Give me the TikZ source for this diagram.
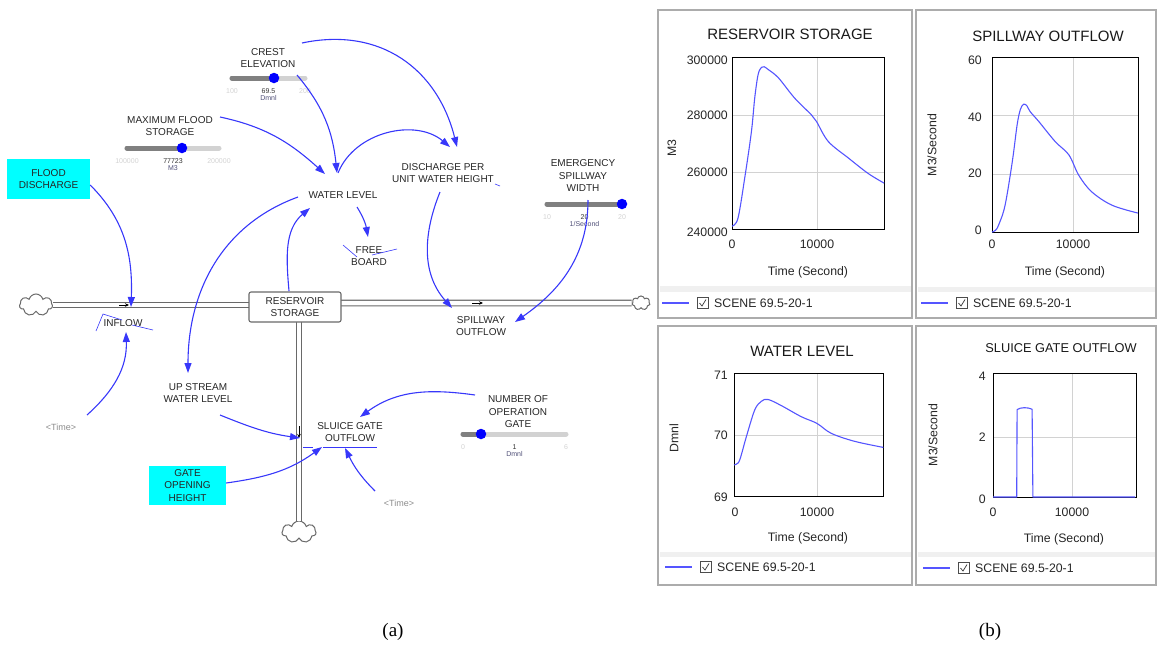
\documentclass[tikz,border=0pt]{standalone}
\usepackage{fontspec}
\setmainfont{Liberation Sans}
\newfontfamily\capfont{Liberation Serif}
\usetikzlibrary{shapes.symbols, arrows.meta, calc, positioning}
\definecolor{cLink}{RGB}{55,55,250}
\definecolor{cCyan}{RGB}{0,255,255}
\definecolor{cPipe}{RGB}{105,105,105}
\definecolor{cPlot}{RGB}{85,85,255}
\definecolor{cUnit}{RGB}{80,80,120}
\tikzset{
	var/.style={align=center, font=\fontsize{10}{12.5}\selectfont, inner sep=0pt, text=black!85},
	shadowvar/.style={var, text=black!45, font=\fontsize{9}{11}\selectfont},
	cyanbox/.style={var, fill=cCyan, minimum width=83pt, minimum height=40pt},
	stockbox/.style={var, draw=cPipe, line width=1.1pt, fill=white, rounded corners=2pt, minimum width=92pt, minimum height=30pt},
	cloudnode/.style={cloud, cloud puffs=7, cloud ignores aspect, draw=cPipe, line width=1pt, fill=white, inner sep=0pt},
	pipe/.style={draw=cPipe, line width=1.1pt, double=white, double distance=4.5pt},
	link/.style={draw=cLink, line width=1.1pt, -{Triangle[length=10pt,width=7pt]}},
	valve/.style={-{Stealth[length=4pt,width=3.5pt]}, line width=0.7pt, black},
	slabel/.style={font=\fontsize{7}{8}\selectfont, inner sep=0pt},
	panel/.style={draw=gray!65, line width=1.6pt},
	plotbox/.style={draw=black, line width=0.8pt},
	gridln/.style={draw=gray!35, line width=0.8pt},
	curve/.style={draw=cPlot, line width=1.1pt, line join=round},
	tick/.style={font=\fontsize{12.3}{14}\selectfont, inner sep=0pt, text=black!85},
	ptitle/.style={font=\fontsize{15}{17}\selectfont, inner sep=0pt, text=black!90},
}
% slider: name, x1, x2, y, knob, min, value, max, unit
\newcommand{\vslider}[9]{%
	\draw[line width=5pt, line cap=round, gray!35] (#2,#4) -- (#3,#4);
	\draw[line width=5pt, line cap=round, gray] (#2,#4) -- (#5,#4);
	\node[circle, fill=blue, inner sep=0pt, minimum size=10.5pt] (#1) at (#5,#4) {};
	\node[slabel, text=gray!35] at (#2,#4+13) {#6};
	\node[slabel, text=black!80] at ({(#2+#3)/2},#4+13) {#7};
	\node[slabel, text=gray!35] at (#3,#4+13) {#8};
	\node[slabel, text=cUnit] at ({(#2+#3)/2},#4+20) {#9};
}
% legend row of a chart
\newcommand{\legendrow}[2]{%
	\draw[curve] (#1,#2) -- (#1+27,#2);
	\draw[black!70, line width=0.6pt] (#1+35,#2-5.5) rectangle (#1+46,#2+5.5);
	\draw[black!80, line width=0.7pt] (#1+37.5,#2) -- (#1+40,#2+3) -- (#1+44,#2-3.5);
	\node[tick, anchor=west] at (#1+52,#2) {SCENE 69.5-20-1};
}

\begin{document}
\begin{tikzpicture}[x=1pt, y=-1pt]
\useasboundingbox (0,0) rectangle (1157,646);

% ---- stock and flow diagram
\node[var] (crest) at (268,58) {CREST\\ELEVATION};
\vslider{crestKnob}{232}{305}{78}{274}{100}{69.5}{200}{Dmnl}
\node[var] (mfs) at (170,126) {MAXIMUM FLOOD\\STORAGE};
\vslider{mfsKnob}{127}{219}{148}{182}{100000}{77723}{200000}{M3}
\node[cyanbox] (flood) at (48.5,179) {FLOOD\\DISCHARGE};
\node[var] (wl) at (343,195) {WATER LEVEL};
\node[var] (dpu) at (443,173) {DISCHARGE PER\\UNIT WATER HEIGHT};
\node[var] (esw) at (583,176) {EMERGENCY\\SPILLWAY\\WIDTH};
\vslider{eswKnob}{547}{622}{204}{622}{10}{20}{20}{1/Second}
\node[var] (fb) at (369,256) {FREE\\BOARD};

\node[cloudnode, minimum width=33pt, minimum height=22pt] (cl1) at (36,305) {};
\node[cloudnode, minimum width=18pt, minimum height=14pt] (cl2) at (641,303) {};
\node[cloudnode, minimum width=34pt, minimum height=22pt] (cl3) at (299,532) {};
\draw[pipe] (cl1.east) -- (cl1.east -| 252,0);
\draw[pipe] (338,303) -- (cl2.west);
\draw[pipe] (cl3.north |- 0,318) -- (cl3.north);
\node[stockbox] (rs) at (295,307) {RESERVOIR\\STORAGE};
\draw[valve] (119,305) -- (129,305);
\draw[valve] (472,303) -- (483,303);
\draw[valve] (299,426) -- (299,438);

\node[var] (inflow) at (123,323) {INFLOW};
\node[var] (so) at (481,326) {SPILLWAY\\OUTFLOW};
\node[var] (usw) at (198,393) {UP STREAM\\WATER LEVEL};
\node[shadowvar] (time1) at (61,427) {\textless Time\textgreater};
\node[cyanbox, minimum width=77pt, minimum height=39pt] (gate) at (187.5,485.5) {GATE\\OPENING\\HEIGHT};
\node[var] (sgo) at (350,432) {SLUICE GATE\\OUTFLOW};
\node[var] (nog) at (518,412) {NUMBER OF\\OPERATION\\GATE};
\vslider{nogKnob}{463}{566}{434}{481}{0}{1}{6}{Dmnl}
\node[shadowvar] (time2) at (399,503) {\textless Time\textgreater};

% links
\draw[link] ($(crest)+(29,17)$) to[out=-50, in=96] ($(wl)+(-6,-22)$);
\draw[link] ($(crest)+(34,-15)$) to[out=12, in=104, looseness=1.1] ($(dpu)+(14,-26)$);
\draw[link] ($(mfs)+(50,-9)$) to[out=-12, in=138] ($(wl)+(-18,-21)$);
\draw[link] ($(wl)+(-5,-22)$) to[out=68, in=140] ($(dpu)+(7,-26)$);
\draw[link] ($(dpu)+(-3,19)$) to[out=-112, in=132] ($(so)+(-29,-18)$);
\draw[link] ($(esw)+(5,24)$) to[out=-90, in=35] ($(so)+(34,-4)$);
\draw[link] ($(rs)+(-6,-16)$) to[out=95, in=-140] ($(wl)+(-33,13)$);
\draw[link] ($(wl)+(-45,2)$) to[out=200, in=90] ($(usw)+(-10,-20)$);
\draw[link] ($(wl)+(14,12)$) to[out=-58, in=100] ($(fb)+(-1,-19)$);
\draw[link] ($(flood.east)+(0,6)$) to[out=-45, in=88] ($(inflow)+(8,-16)$);
\draw[link] ($(time1)+(26,-12)$) to[out=42, in=-88] ($(inflow)+(3,9)$);
\draw[link] ($(usw)+(22,22)$) to[out=-22, in=172] ($(sgo)+(-50,6)$);
\draw[link] ($(gate.east)+(0,-2.5)$) to[out=8, in=-144] ($(sgo)+(-28,15)$);
\draw[link] ($(nog)+(-43,-17)$) to[out=172, in=36] ($(sgo)+(10,-15)$);
\draw[link] ($(time2)+(-24,-12)$) to[out=135, in=-64] ($(sgo)+(-5,16)$);

% stray marks
\draw[cLink, line width=0.6pt] (96,331) -- (103,314) -- (122,320) (132,325) -- (153,330);
\draw[cLink, line width=0.6pt] (343,245) -- (357,257) (372,255) -- (397,249);
\draw[cLink, line width=0.6pt] (495,184) -- (500,186);
\draw[cLink, line width=0.6pt] (303,447) -- (313,447) (323,447) -- (377,447);

% ---- charts
% reservoir storage
\fill[gray!12] (660,286) rectangle (911,292);
\draw[panel] (658,10) rectangle (912,318);
\node[ptitle] (t1) at (790,34) {RESERVOIR STORAGE};
\draw[gridln] (817,57) -- (817,229) (732,115) -- (884,115) (732,172) -- (884,172);
\draw[plotbox] (732,57) rectangle (884,229);
\foreach \val/\yy in {300000/60, 280000/115, 260000/172, 240000/232}
	\node[tick, anchor=east] at (728,\yy) {\val};
\node[tick] at (732,244) {0};
\node[tick] at (817,244) {10000};
\node[tick] at (808,272) {Time (Second)};
\node[tick, rotate=90] at (672,148) {M3};
\begin{scope}[shift={(732,229)}, x=8.45pt, y=2.867pt]
	\draw[curve] plot[smooth, tension=0.55] coordinates {(0,1) (0.7,3.7) (1.5,17.7) (2.3,34) (2.7,46) (3.1,54) (3.5,56.4) (3.8,56.6) (4.3,55.6) (5.5,52.7) (7.4,45.7) (9.4,39.8) (10,37.5) (11.4,30.5) (13.8,24.7) (16.1,19.4) (18,16)};
\end{scope}
\legendrow{662}{303}

% spillway outflow
\fill[gray!12] (918,287) rectangle (1155,292);
\draw[panel] (916,10) rectangle (1156,318);
\node[ptitle] (t2) at (1048,36) {SPILLWAY OUTFLOW};
\draw[gridln] (1073,57) -- (1073,232) (992,115) -- (1138,115) (992,174) -- (1138,174);
\draw[plotbox] (992,57) rectangle (1138,232);
\foreach \val/\yy in {60/60, 40/117, 20/173, 0/230}
	\node[tick, anchor=east] at (982,\yy) {\val};
\node[tick] at (992,244) {0};
\node[tick] at (1073,244) {10000};
\node[tick] at (1065,272) {Time (Second)};
\node[tick, rotate=90] at (932,145) {M3/Second};
\begin{scope}[shift={(992,232)}, x=8.1pt, y=2.917pt]
	\draw[curve] plot[smooth, tension=0.55] coordinates {(0,0) (0.4,0.5) (0.8,2.3) (1.6,9) (2.5,24) (3.1,36.7) (3.5,42) (3.9,43.8) (4.3,43.3) (4.7,41.3) (5.8,37.8) (7.8,31) (9.5,26.4) (10.7,19.5) (12.3,13.8) (14.8,9.2) (18,6.5)};
\end{scope}
\legendrow{921}{303}

% water level
\fill[gray!12] (660,552) rectangle (911,557);
\draw[panel] (658,326) rectangle (912,585);
\node[ptitle] (t3) at (802,351) {WATER LEVEL};
\draw[gridln] (817,373) -- (817,496) (734,435) -- (883,435);
\draw[plotbox] (734,373) rectangle (883,496);
\foreach \val/\yy in {71/375, 70/435, 69/497}
	\node[tick, anchor=east] at (728,\yy) {\val};
\node[tick] at (735,512) {0};
\node[tick] at (817,512) {10000};
\node[tick] at (808,538) {Time (Second)};
\node[tick, rotate=90] at (674,438) {Dmnl};
\begin{scope}[shift={(734,496)}, x=8.3pt, y=61.5pt]
	\draw[curve] plot[smooth, tension=0.55] coordinates {(0,0.505) (0.3,0.52) (0.7,0.59) (1.5,0.97) (2.5,1.40) (3.3,1.54) (4.1,1.57) (5.7,1.47) (8.1,1.29) (10,1.18) (11.7,1.02) (14.5,0.89) (18,0.79)};
\end{scope}
\legendrow{665}{567}

% sluice gate outflow
\fill[gray!12] (918,552) rectangle (1155,557);
\draw[panel] (916,326) rectangle (1156,585);
\node[ptitle, font=\fontsize{12.8}{15}\selectfont] (t4) at (1061,348) {SLUICE GATE OUTFLOW};
\draw[gridln] (1072,373) -- (1072,497) (993,437) -- (1136,437);
\draw[plotbox] (993,373) rectangle (1136,497);
\foreach \val/\yy in {4/376, 2/437, 0/499}
	\node[tick, anchor=east] at (986,\yy) {\val};
\node[tick] at (993,512) {0};
\node[tick] at (1072,512) {10000};
\node[tick] at (1064,539) {Time (Second)};
\node[tick, rotate=90] at (933,435) {M3/Second};
\begin{scope}[shift={(993,497)}, x=7.9pt, y=31pt]
	\draw[curve] (0,0) -- (3.0,0) -- (3.05,2.82) .. controls (3.5,2.9) and (4.4,2.9) .. (4.95,2.83) -- (5.05,0) -- (18,0);
\end{scope}
\legendrow{923}{568}

% captions
\node[font=\capfont\fontsize{19}{22}\selectfont, inner sep=0pt] (capA) at (393,632) {(a)};
\node[font=\capfont\fontsize{19}{22}\selectfont, inner sep=0pt] (capB) at (990,632) {(b)};
\end{tikzpicture}
\end{document}
